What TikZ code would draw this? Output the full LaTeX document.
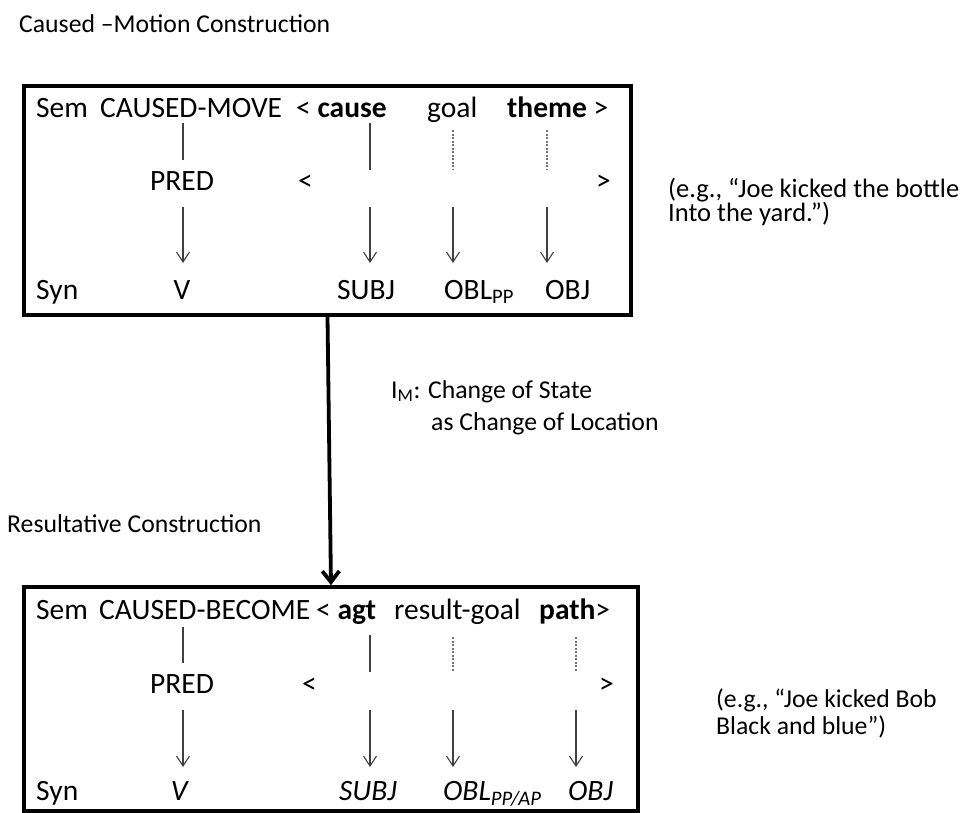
\documentclass[tikz,border=0pt]{standalone}
\usepackage{fontspec}
\setmainfont{Carlito}
\usetikzlibrary{arrows.meta}
\begin{document}
\begin{tikzpicture}[x=1pt,y=-1pt,
  txt/.style={inner sep=0pt, anchor=base west, font=\fontsize{29.5}{34}\selectfont},
  lbl/.style={inner sep=0pt, anchor=base west, font=\fontsize{25.7}{30}\selectfont},
  box/.style={draw, line width=3.6pt, inner sep=0pt},
  conn/.style={draw=black!75, line width=1.1pt},
  dconn/.style={draw=black!55, line width=1.1pt, dash pattern=on 2pt off 1.5pt},
  arr/.style={conn, -{Straight Barb[length=10pt,width=13pt,line width=1.1pt]}},
  bigarr/.style={line width=3.8pt, -{Straight Barb[length=11pt,width=17pt]}},
]
\useasboundingbox (0,0) rectangle (972,812);

% boxes
\node[box, minimum width=607pt, minimum height=229pt] (box1) at (327.5,200.5) {};
\node[box, minimum width=614pt, minimum height=224pt] (box2) at (331,699) {};

% outside labels
\node[lbl] (title1) at (19,32) {Caused –Motion Construction};
\node[lbl] (title2) at (7,532) {Resultative Construction};
\node[lbl, font=\fontsize{26.5}{30}\selectfont] (ex1) at (668,197)
  {\begin{tabular}[t]{@{}l@{}}(e.g., “Joe kicked the bottle\\[-6pt]Into the yard.”)\end{tabular}};
\node[lbl] (ex2) at (716,707)
  {\begin{tabular}[t]{@{}l@{}}(e.g., “Joe kicked Bob\\[-3pt]Black and blue”)\end{tabular}};
\node[lbl] (im1) at (391,398) {I\textsubscript{M}: Change of State};
\node[lbl] (im2) at (431,430) {as Change of Location};

% box 1 texts
\node[txt] (sem1) at (36,117) {Sem};
\node[txt] (cm) at (100,117) {CAUSED-MOVE};
\node[txt] (cause) at (296,117) {< \textbf{cause}};
\node[txt] (goal1) at (427,117) {goal};
\node[txt] (theme) at (507,117) {\textbf{theme} >};
\node[txt, anchor=base] (pred1) at (182,190) {PRED};
\node[txt] (lt1b) at (298,190) {<};
\node[txt] (gt1b) at (596,190) {>};
\node[txt] (syn1) at (36,299) {Syn};
\node[txt, anchor=base] (v1) at (182,299) {V};
\node[txt, anchor=base] (subj1) at (366,299) {SUBJ};
\node[txt] (obl1) at (444,299) {OBL\textsubscript{PP}};
\node[txt] (obj1) at (545,299) {OBJ};

% box 1 connectors
\coordinate (p1a) at (183,123); \coordinate (p1b) at (183,160);
\coordinate (p1c) at (183,207); \coordinate (p1d) at (183,263);
\coordinate (c1a) at (370,123); \coordinate (c1b) at (370,170);
\coordinate (c1c) at (370,207); \coordinate (c1d) at (370,263);
\coordinate (g1a) at (453,130); \coordinate (g1b) at (453,170);
\coordinate (g1c) at (453,207); \coordinate (g1d) at (453,263);
\coordinate (t1a) at (547,130); \coordinate (t1b) at (547,170);
\coordinate (t1c) at (547,207); \coordinate (t1d) at (547,263);
\draw[conn] (p1a) -- (p1b);
\draw[conn] (c1a) -- (c1b);
\draw[dconn] (g1a) -- (g1b);
\draw[dconn] (t1a) -- (t1b);
\draw[arr] (p1c) -- (p1d);
\draw[arr] (c1c) -- (c1d);
\draw[arr] (g1c) -- (g1d);
\draw[arr] (t1c) -- (t1d);

% box 2 texts
\node[txt] (sem2) at (36,619) {Sem};
\node[txt] (cb) at (99,619) {CAUSED-BECOME};
\node[txt] (agt) at (316,619) {< \textbf{agt}};
\node[txt] (rg) at (394,619) {result-goal};
\node[txt] (path) at (539,619) {\textbf{path}>};
\node[txt, anchor=base] (pred2) at (182,693) {PRED};
\node[txt] (lt2b) at (302,693) {<};
\node[txt] (gt2b) at (599,693) {>};
\node[txt] (syn2) at (36,800) {Syn};
\node[txt, anchor=base] (v2) at (180,800) {\textit{V}};
\node[txt, anchor=base] (subj2) at (368,800) {\textit{SUBJ}};
\node[txt] (obl2) at (443,800) {\textit{OBL\textsubscript{PP/AP}}};
\node[txt] (obj2) at (568,800) {\textit{OBJ}};

% box 2 connectors
\coordinate (p2a) at (183,627); \coordinate (p2b) at (183,663);
\coordinate (p2c) at (183,710); \coordinate (p2d) at (183,767);
\coordinate (c2a) at (370,635); \coordinate (c2b) at (370,672);
\coordinate (c2c) at (370,710); \coordinate (c2d) at (370,767);
\coordinate (g2a) at (453,637); \coordinate (g2b) at (453,672);
\coordinate (g2c) at (453,710); \coordinate (g2d) at (453,767);
\coordinate (t2a) at (576,637); \coordinate (t2b) at (576,672);
\coordinate (t2c) at (576,710); \coordinate (t2d) at (576,767);
\draw[conn] (p2a) -- (p2b);
\draw[conn] (c2a) -- (c2b);
\draw[dconn] (g2a) -- (g2b);
\draw[dconn] (t2a) -- (t2b);
\draw[arr] (p2c) -- (p2d);
\draw[arr] (c2c) -- (c2d);
\draw[arr] (g2c) -- (g2d);
\draw[arr] (t2c) -- (t2d);

% main arrow
\draw[bigarr] (box1.south) -- (box2.north);
\end{tikzpicture}
\end{document}
